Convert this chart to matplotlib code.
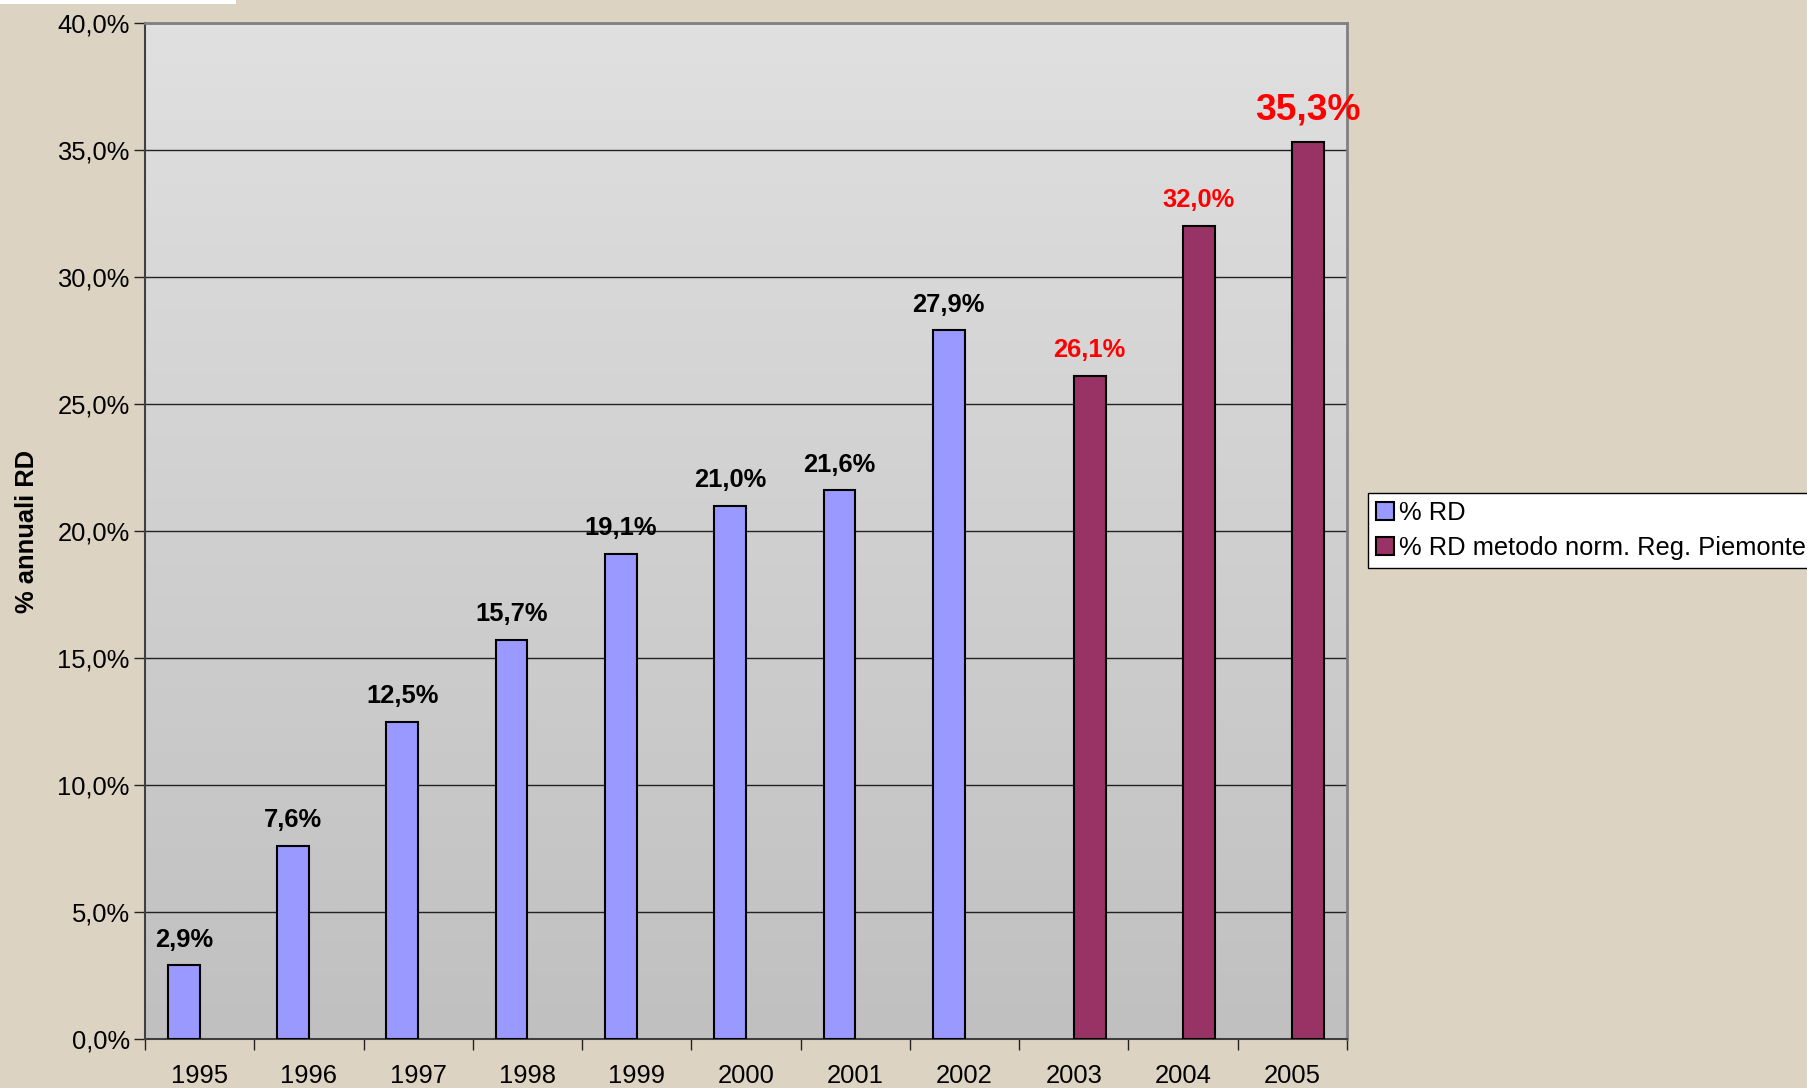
import numpy as np
import matplotlib
matplotlib.use("Agg")
import matplotlib.pyplot as plt
from matplotlib.patches import Rectangle
from matplotlib.ticker import FuncFormatter, FixedLocator

plt.rcParams['font.family'] = ['Liberation Sans', 'DejaVu Sans']

years = ['1995', '1996', '1997', '1998', '1999', '2000', '2001', '2002', '2003', '2004', '2005']
rd = [2.9, 7.6, 12.5, 15.7, 19.1, 21.0, 21.6, 27.9, np.nan, np.nan, np.nan]
rd_piemonte = [np.nan, np.nan, np.nan, np.nan, np.nan, np.nan, np.nan, np.nan, 26.1, 32.0, 35.3]
series_names = ['% RD', '% RD metodo norm. Reg. Piemonte']

FS = 18.4

W, H = 1807, 1088
fig = plt.figure(figsize=(W / 100, H / 100), dpi=100)
fig.patch.set_facecolor('#DDD3C3')
# white strip at top-left
fig.patches.append(Rectangle((0, 1 - 4 / H), 236 / W, 4 / H, transform=fig.transFigure,
                             facecolor='white', edgecolor='none', zorder=0))

ax = fig.add_axes([145 / W, 1 - 1039 / H, (1347 - 145) / W, (1039 - 23) / H])
ax.set_facecolor('none')

# gradient background
grad = np.linspace(0, 1, 256).reshape(-1, 1)
cmap = matplotlib.colors.LinearSegmentedColormap.from_list('g', ['#E0E0E0', '#C0C0C0'])
ax.imshow(grad, aspect='auto', cmap=cmap, extent=[0, 1, 0, 1], transform=ax.transAxes,
          zorder=0, interpolation='bicubic')

x = np.arange(len(years))
w = 0.29
b1 = ax.bar(x - w / 2, rd, w, color='#9999FF', edgecolor='black', linewidth=1.5, zorder=3,
            label=series_names[0])
b2 = ax.bar(x + w / 2, rd_piemonte, w, color='#993366', edgecolor='black', linewidth=1.5, zorder=3,
            label=series_names[1])

ax.set_xlim(-0.5, len(years) - 0.5)
ax.set_ylim(0, 40)
ax.yaxis.set_major_locator(FixedLocator(np.arange(0, 40.1, 5)))
ax.yaxis.set_major_formatter(FuncFormatter(lambda v, p: f"{v:.1f}".replace('.', ',') + '%'))
ax.grid(axis='y', color='#222222', linewidth=1.0, zorder=1)
ax.set_axisbelow(True)

ax.set_xticks(np.arange(-0.5, len(years), 1.0))
ax.set_xticklabels([])
ax.set_xticks(x, minor=True)
ax.set_xticklabels(years, minor=True)
ax.tick_params(axis='x', which='major', length=8, width=1, direction='out', color='#222222')
ax.tick_params(axis='x', which='minor', length=0, pad=18, labelsize=FS)
ax.tick_params(axis='y', length=8, width=1, direction='out', color='#222222', labelsize=FS, pad=3)

for s in ['top', 'right']:
    ax.spines[s].set_color('#808080')
    ax.spines[s].set_linewidth(2)
for s in ['left', 'bottom']:
    ax.spines[s].set_color('#404040')
    ax.spines[s].set_linewidth(1.5)

ax.set_ylabel('% annuali RD', fontsize=FS, fontweight='bold')
ax.yaxis.set_label_coords(-0.088, 0.5)

for xi, v in zip(x, rd):
    if not np.isnan(v):
        ax.annotate(f"{v:.1f}".replace('.', ',') + '%', (xi - w / 2, v), xytext=(0, 13.5),
                    textcoords='offset points', ha='center', va='baseline',
                    fontsize=FS, fontweight='bold', color='black')
for xi, v in zip(x, rd_piemonte):
    if not np.isnan(v):
        big = v == max(np.nan_to_num(rd_piemonte))
        ax.annotate(f"{v:.1f}".replace('.', ',') + '%', (xi + w / 2, v),
                    xytext=(0, 16.5 if big else 13.5),
                    textcoords='offset points', ha='center', va='baseline',
                    fontsize=26.7 if big else FS, fontweight='bold', color='red',
                    annotation_clip=False)

leg = fig.legend(handles=[b1, b2], labels=series_names, loc='upper left',
                 bbox_to_anchor=(1368 / W, 1 - 493 / H), fontsize=FS, frameon=True,
                 fancybox=False, edgecolor='black', facecolor='white', framealpha=1,
                 handlelength=0.7, handleheight=0.7, handletextpad=0.2, borderpad=0.3,
                 labelspacing=0.45, borderaxespad=0)
leg.get_frame().set_linewidth(1.0)

fig.savefig('out.png', dpi=100, facecolor=fig.get_facecolor())
